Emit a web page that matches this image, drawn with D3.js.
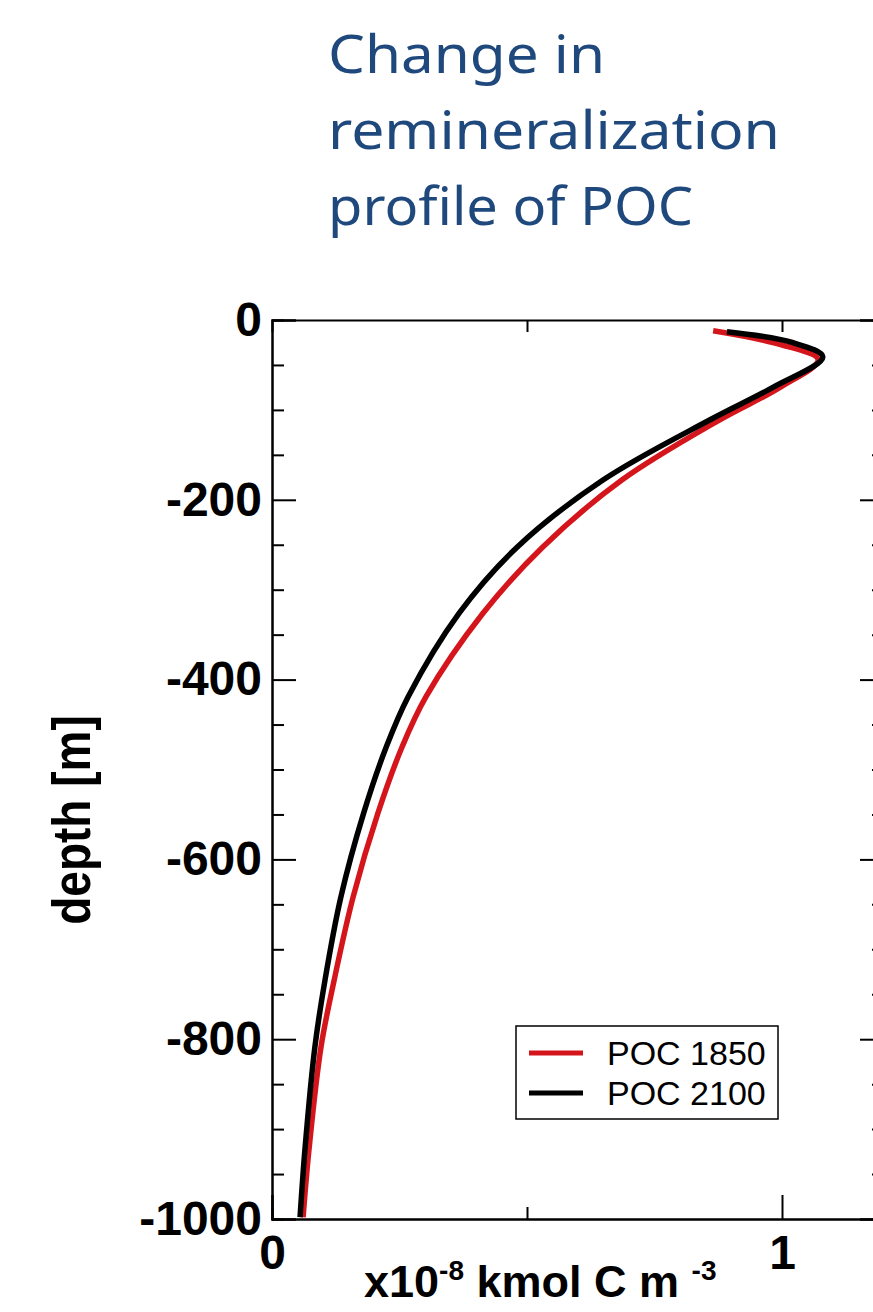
<!DOCTYPE html>
<html>
<head>
<meta charset="utf-8">
<script src="https://cdn.jsdelivr.net/npm/d3@7"></script>
<style>
  body { margin: 0; background: #fff; }
  svg { display: block; }
</style>
</head>
<body>
<div id="chart"></div>
<script>
// Values (x in 1e-8 kmol C m-3, depth in m)
const depths1850 = [-12, -25, -44, -75, -111, -178, -253, -326, -419, -475, -548, -642, -734, -809, -920, -998];
const poc1850 = [0.865, 0.98, 1.071, 0.996, 0.878, 0.686, 0.530, 0.414, 0.302, 0.255, 0.208, 0.159, 0.122, 0.096, 0.073, 0.061];
const depths2100 = [-13, -25, -41, -75, -111, -178, -253, -326, -419, -475, -548, -642, -734, -809, -920, -998];
const poc2100 = [0.892, 1.02, 1.080, 0.982, 0.859, 0.649, 0.480, 0.367, 0.267, 0.224, 0.180, 0.135, 0.104, 0.084, 0.065, 0.055];

const seriesNames = ['POC 1850', 'POC 2100'];
const yMajorTicks = [0, -200, -400, -600, -800, -1000];
const yMinorTicks = d3.range(-50, -1000, -50).filter(d => d % 200 !== 0);
const xMajorTicks = [0, 1];
const xMinorTicks = [0.5];
const titleLines = ['Change in', 'remineralization', 'profile of POC'];

class ProfileChart {

  constructor(_config) {
    this.config = {
      parentElement: _config.parentElement,
      containerWidth: 873,
      containerHeight: 1312,
      margin: {top: 320, left: 272},
      plotWidth: 612,
      plotHeight: 899,
      majorTick: 24,
      minorTick: 12,
      colors: ['#d4161c', '#000000']
    }
    this.series = [
      {name: seriesNames[0], values: poc1850.map((v, i) => ({x: v, depth: depths1850[i]}))},
      {name: seriesNames[1], values: poc2100.map((v, i) => ({x: v, depth: depths2100[i]}))}
    ];
    this.initVis();
  }

  initVis() {
    let vis = this;
    const c = vis.config;

    vis.xScale = d3.scaleLinear().domain([0, 1.2]).range([0, c.plotWidth]);
    vis.yScale = d3.scaleLinear().domain([-1000, 0]).range([c.plotHeight, 0]);

    vis.svg = d3.select(c.parentElement).append('svg')
      .attr('width', c.containerWidth)
      .attr('height', c.containerHeight);

    vis.chart = vis.svg.append('g')
      .attr('transform', `translate(${c.margin.left},${c.margin.top})`);

    vis.renderTitle();
    vis.renderAxes();
    vis.renderLines();
    vis.renderLegend();
  }

  renderTitle() {
    let vis = this;
    const widths = [277, 452, 365];
    vis.svg.append('g')
      .selectAll('text')
      .data(titleLines)
      .join('text')
      .attr('x', 328)
      .attr('y', (d, i) => 73 + i * 76)
      .attr('textLength', (d, i) => widths[i])
      .attr('lengthAdjust', 'spacingAndGlyphs')
      .attr('fill', '#1f497d')
      .style('font-family', "'Segoe Print', 'Noto Sans', sans-serif")
      .style('font-size', '52px')
      .text(d => d);
  }

  styleAxis(g) {
    g.select('.domain').attr('stroke', '#000').attr('stroke-width', 2);
    g.selectAll('.tick line').attr('stroke', '#000').attr('stroke-width', 2);
    g.selectAll('.tick text')
      .attr('fill', '#000')
      .style('font-family', 'Liberation Sans, Arial, sans-serif')
      .style('font-weight', 'bold')
      .style('font-size', '48px');
  }

  renderAxes() {
    let vis = this;
    const c = vis.config;
    const noLabel = () => '';

    // left axis, labelled majors + minor ticks
    vis.chart.append('g')
      .call(d3.axisLeft(vis.yScale).tickValues(yMinorTicks).tickSize(-c.minorTick).tickFormat(noLabel))
      .call(g => vis.styleAxis(g));
    vis.chart.append('g')
      .call(d3.axisLeft(vis.yScale).tickValues(yMajorTicks).tickSize(-c.majorTick).tickPadding(10).tickFormat(d3.format('d')))
      .call(g => vis.styleAxis(g))
      .call(g => g.selectAll('.tick text').text(d => d === 0 ? '0' : '-' + Math.abs(d)));

    // right axis (mostly outside the visible area)
    const right = vis.chart.append('g').attr('transform', `translate(${c.plotWidth},0)`);
    right.append('g')
      .call(d3.axisRight(vis.yScale).tickValues(yMinorTicks).tickSize(-c.minorTick).tickFormat(noLabel))
      .call(g => vis.styleAxis(g));
    right.append('g')
      .call(d3.axisRight(vis.yScale).tickValues(yMajorTicks).tickSize(-c.majorTick).tickFormat(noLabel))
      .call(g => vis.styleAxis(g));

    // bottom axis
    const bottom = vis.chart.append('g').attr('transform', `translate(0,${c.plotHeight})`);
    bottom.append('g')
      .call(d3.axisBottom(vis.xScale).tickValues(xMinorTicks).tickSize(-c.minorTick).tickFormat(noLabel))
      .call(g => vis.styleAxis(g));
    bottom.append('g')
      .call(d3.axisBottom(vis.xScale).tickValues(xMajorTicks).tickSize(-c.majorTick).tickPadding(16).tickFormat(d3.format('d')))
      .call(g => vis.styleAxis(g));

    // top axis
    vis.chart.append('g')
      .call(d3.axisTop(vis.xScale).tickValues(xMinorTicks.concat([1])).tickSize(-c.minorTick).tickFormat(noLabel))
      .call(g => vis.styleAxis(g));

    // axis titles
    const xTitle = vis.svg.append('text')
      .attr('x', 364)
      .attr('y', 1297)
      .style('font-family', 'Liberation Sans, Arial, sans-serif')
      .style('font-weight', 'bold')
      .style('font-size', '45px');
    xTitle.append('tspan').text('x10');
    xTitle.append('tspan').attr('dy', -17).style('font-size', '28px').text('-8');
    xTitle.append('tspan').attr('dy', 17).text(' kmol C m ');
    xTitle.append('tspan').attr('dy', -17).style('font-size', '28px').text('-3');

    vis.svg.append('text')
      .attr('transform', 'translate(90,820) rotate(-90) scale(1,1.15)')
      .attr('text-anchor', 'middle')
      .style('font-family', 'Liberation Sans, Arial, sans-serif')
      .style('font-weight', 'bold')
      .style('font-size', '46px')
      .text('depth [m]');
  }

  renderLines() {
    let vis = this;
    const line = d3.line()
      .x(d => vis.xScale(d.x))
      .y(d => vis.yScale(d.depth))
      .curve(d3.curveCatmullRom);

    vis.chart.append('g')
      .selectAll('path')
      .data(vis.series)
      .join('path')
      .attr('d', d => line(d.values))
      .attr('fill', 'none')
      .attr('stroke', (d, i) => vis.config.colors[i])
      .attr('stroke-width', 5.5);
  }

  renderLegend() {
    let vis = this;
    const c = vis.config;
    const legend = vis.svg.append('g').attr('transform', 'translate(516,1026)');

    legend.append('rect')
      .attr('width', 262)
      .attr('height', 93)
      .attr('fill', '#fff')
      .attr('stroke', '#000')
      .attr('stroke-width', 1.5);

    const rows = legend.selectAll('.row')
      .data(vis.series)
      .join('g')
      .attr('class', 'row')
      .attr('transform', (d, i) => `translate(0,${27 + i * 40})`);

    rows.append('line')
      .attr('x1', 13)
      .attr('x2', 67)
      .attr('stroke', (d, i) => c.colors[i])
      .attr('stroke-width', 5);

    rows.append('text')
      .attr('x', 91)
      .attr('y', 12)
      .style('font-family', 'Liberation Sans, Arial, sans-serif')
      .style('font-size', '34px')
      .text(d => d.name);
  }
}

new ProfileChart({parentElement: '#chart'});
</script>
</body>
</html>
